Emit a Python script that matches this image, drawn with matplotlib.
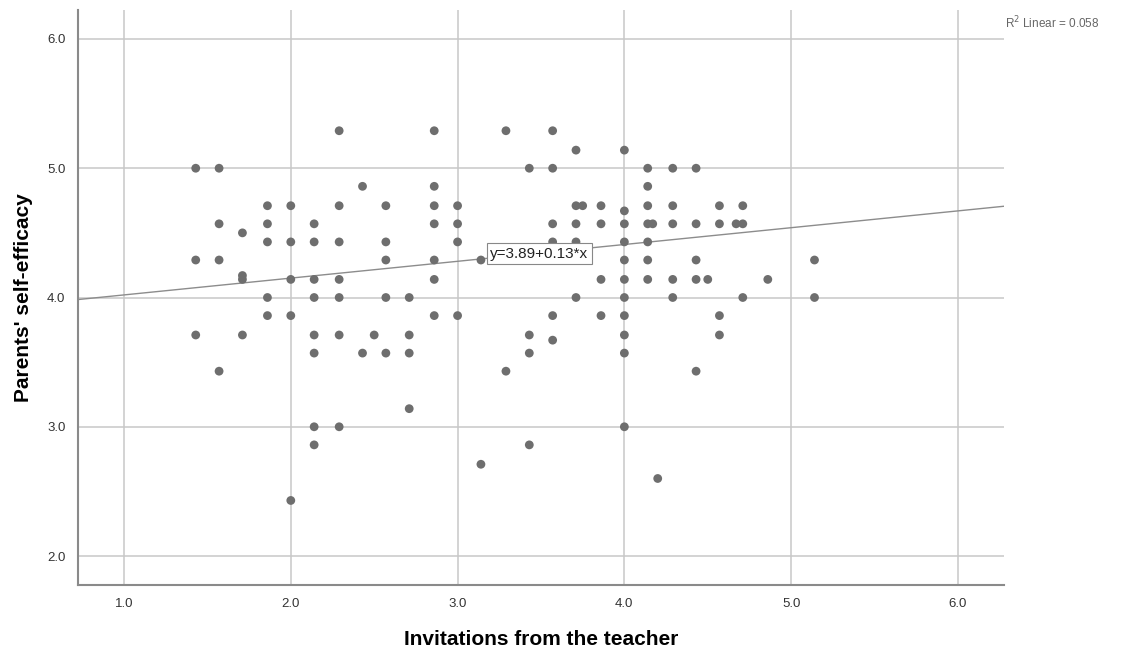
import numpy as np
import matplotlib
matplotlib.use("Agg")
import matplotlib.pyplot as plt

plt.rcParams['font.family'] = ['Liberation Sans', 'DejaVu Sans']

# Data (x = invitations, y = self-efficacy)
invitations = [
    1.43, 1.43, 1.43,
    1.57, 1.57, 1.57, 1.57,
    1.71, 1.71, 1.71, 1.71,
    1.86, 1.86, 1.86, 1.86, 1.86,
    2.00, 2.00, 2.00, 2.00, 2.00,
    2.14, 2.14, 2.14, 2.14, 2.14, 2.14, 2.14, 2.14,
    2.29, 2.29, 2.29, 2.29, 2.29, 2.29, 2.29,
    2.43, 2.43,
    2.50,
    2.57, 2.57, 2.57, 2.57, 2.57,
    2.71, 2.71, 2.71, 2.71,
    2.86, 2.86, 2.86, 2.86, 2.86, 2.86, 2.86,
    3.00, 3.00, 3.00, 3.00,
    3.14, 3.14,
    3.29, 3.29,
    3.43, 3.43, 3.43, 3.43,
    3.57, 3.57, 3.57, 3.57, 3.57, 3.57,
    3.71, 3.71, 3.71, 3.71, 3.71,
    3.75,
    3.86, 3.86, 3.86, 3.86,
    4.00, 4.00, 4.00, 4.00, 4.00, 4.00, 4.00, 4.00, 4.00, 4.00, 4.00,
    4.14, 4.14, 4.14, 4.14, 4.14, 4.14, 4.14,
    4.17,
    4.20,
    4.29, 4.29, 4.29, 4.29, 4.29,
    4.43, 4.43, 4.43, 4.43, 4.43,
    4.50,
    4.57, 4.57, 4.57, 4.57,
    4.67,
    4.71, 4.71, 4.71,
    4.86,
    5.14, 5.14,
]
self_efficacy = [
    5.00, 4.29, 3.71,
    5.00, 4.57, 4.29, 3.43,
    4.50, 4.17, 4.14, 3.71,
    4.71, 4.57, 4.43, 4.00, 3.86,
    4.71, 4.43, 4.14, 3.86, 2.43,
    4.57, 4.43, 4.14, 4.00, 3.71, 3.57, 3.00, 2.86,
    5.29, 4.71, 4.43, 4.14, 4.00, 3.71, 3.00,
    4.86, 3.57,
    3.71,
    4.71, 4.43, 4.29, 4.00, 3.57,
    4.00, 3.71, 3.57, 3.14,
    5.29, 4.86, 4.71, 4.57, 4.29, 4.14, 3.86,
    4.71, 4.57, 4.43, 3.86,
    4.29, 2.71,
    5.29, 3.43,
    5.00, 3.71, 3.57, 2.86,
    5.29, 5.00, 4.57, 4.43, 3.86, 3.67,
    5.14, 4.71, 4.57, 4.43, 4.00,
    4.71,
    4.71, 4.57, 4.14, 3.86,
    5.14, 4.67, 4.57, 4.43, 4.29, 4.14, 4.00, 3.86, 3.71, 3.57, 3.00,
    5.00, 4.86, 4.71, 4.57, 4.43, 4.29, 4.14,
    4.57,
    2.60,
    5.00, 4.71, 4.57, 4.14, 4.00,
    5.00, 4.57, 4.29, 4.14, 3.43,
    4.14,
    4.71, 4.57, 3.86, 3.71,
    4.57,
    4.71, 4.57, 4.00,
    4.14,
    4.29, 4.00,
]

intercept = 3.89
slope = 0.13
r_squared = 0.058
x_ticks = [1.0, 2.0, 3.0, 4.0, 5.0, 6.0]
y_ticks = [2.0, 3.0, 4.0, 5.0, 6.0]

fig = plt.figure(figsize=(11.22, 6.49), dpi=100)
ax = fig.add_axes([0.0695, 0.0986, 0.8253, 0.886])

ax.set_xticks(x_ticks)
ax.set_yticks(y_ticks)
ax.set_xticklabels([f"{t:.1f}" for t in x_ticks])
ax.set_yticklabels([f"{t:.1f}" for t in y_ticks])
ax.set_xlim(0.724, 6.276)
ax.set_ylim(1.776, 6.224)
ax.grid(True, color='#c8c8c8', linewidth=1.1)
ax.set_axisbelow(True)
ax.tick_params(length=0, labelsize=9.5, colors='#333333', pad=9)

for side in ['top', 'right']:
    ax.spines[side].set_visible(False)
for side in ['left', 'bottom']:
    ax.spines[side].set_color('#8a8a8a')
    ax.spines[side].set_linewidth(1.5)

# fit line
xs = np.array(ax.get_xlim())
ax.plot(xs, intercept + slope * xs, color='#8c8c8c', linewidth=1.0, zorder=2)

ax.scatter(invitations, self_efficacy, s=40, color='#6e6e6e', edgecolors='none', zorder=3)

ax.text(3.49, 4.34, f"y={intercept:.2f}+{slope:.2f}*x", ha='center', va='center',
        fontsize=11, color='#222222', zorder=4,
        bbox=dict(boxstyle='square,pad=0.22', facecolor='white', edgecolor='#888888', linewidth=0.8))

fig.text(0.8955, 0.965, f"R$^2$ Linear = {r_squared:.3f}", fontsize=8.5, color='#666666',
         ha='left', va='center')

ax.set_xlabel("Invitations from the teacher", fontsize=15, fontweight='bold', labelpad=15)
ax.set_ylabel("Parents' self-efficacy", fontsize=15, fontweight='bold', labelpad=10)

fig.savefig("out.png", dpi=100)
